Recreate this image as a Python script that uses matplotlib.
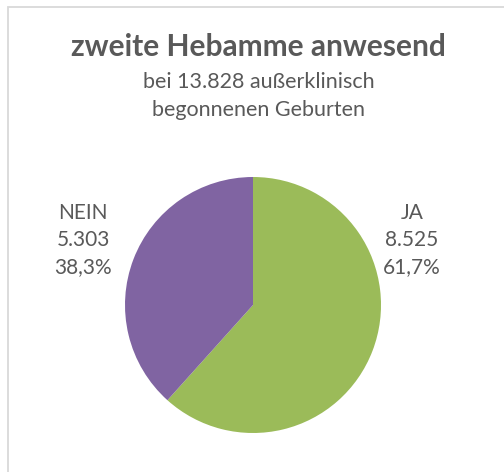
import matplotlib
matplotlib.use("Agg")
import matplotlib.pyplot as plt
from matplotlib.patches import Rectangle

categories = ["JA", "NEIN"]
counts = [8525, 5303]
count_labels = ["8.525", "5.303"]
pct_labels = ["61,7%", "38,3%"]
colors = ["#9BBB59", "#8064A2"]

W, H = 504, 472
fig = plt.figure(figsize=(W / 100, H / 100), dpi=100)
fig.patch.set_facecolor("white")

def fx(x):
    return x / W

def fy(y):
    return 1 - y / H

# outer border (extends beyond right/bottom edges)
fig.patches.append(Rectangle((fx(7.5), fy(520)), fx(600), (520 - 6.5) / H,
                             transform=fig.transFigure, fill=False,
                             edgecolor="#D9D9D9", linewidth=1.3))

font = ["Lato", "DejaVu Sans"]
tc = "#595959"
fig.text(fx(258), fy(47), "zweite Hebamme anwesend", ha="center", va="center",
         fontsize=21.5, fontweight="bold", color=tc, family=font)
fig.text(fx(259), fy(82), "bei 13.828 außerklinisch", ha="center", va="center",
         fontsize=15.5, color=tc, family=font)
fig.text(fx(259), fy(110), "begonnenen Geburten", ha="center", va="center",
         fontsize=15.5, color=tc, family=font)

cx, cy, r = 253, 305, 128
ax = fig.add_axes([fx(cx - r), fy(cy + r), 2 * r / W, 2 * r / H])
ax.pie(counts, colors=colors, startangle=90, counterclock=False, radius=1,
       wedgeprops=dict(linewidth=0))
ax.set_xlim(-1, 1)
ax.set_ylim(-1, 1)
ax.set_aspect("auto")
ax.axis("off")

label_pos = {"JA": (412, 240), "NEIN": (83, 240)}
for cat, cl, pl in zip(categories, count_labels, pct_labels):
    x, y = label_pos[cat]
    fig.text(fx(x), fy(y), f"{cat}\n{cl}\n{pl}", ha="center", va="center",
             fontsize=15, color=tc, family=font, linespacing=1.42)

fig.savefig("out.png", dpi=100)
